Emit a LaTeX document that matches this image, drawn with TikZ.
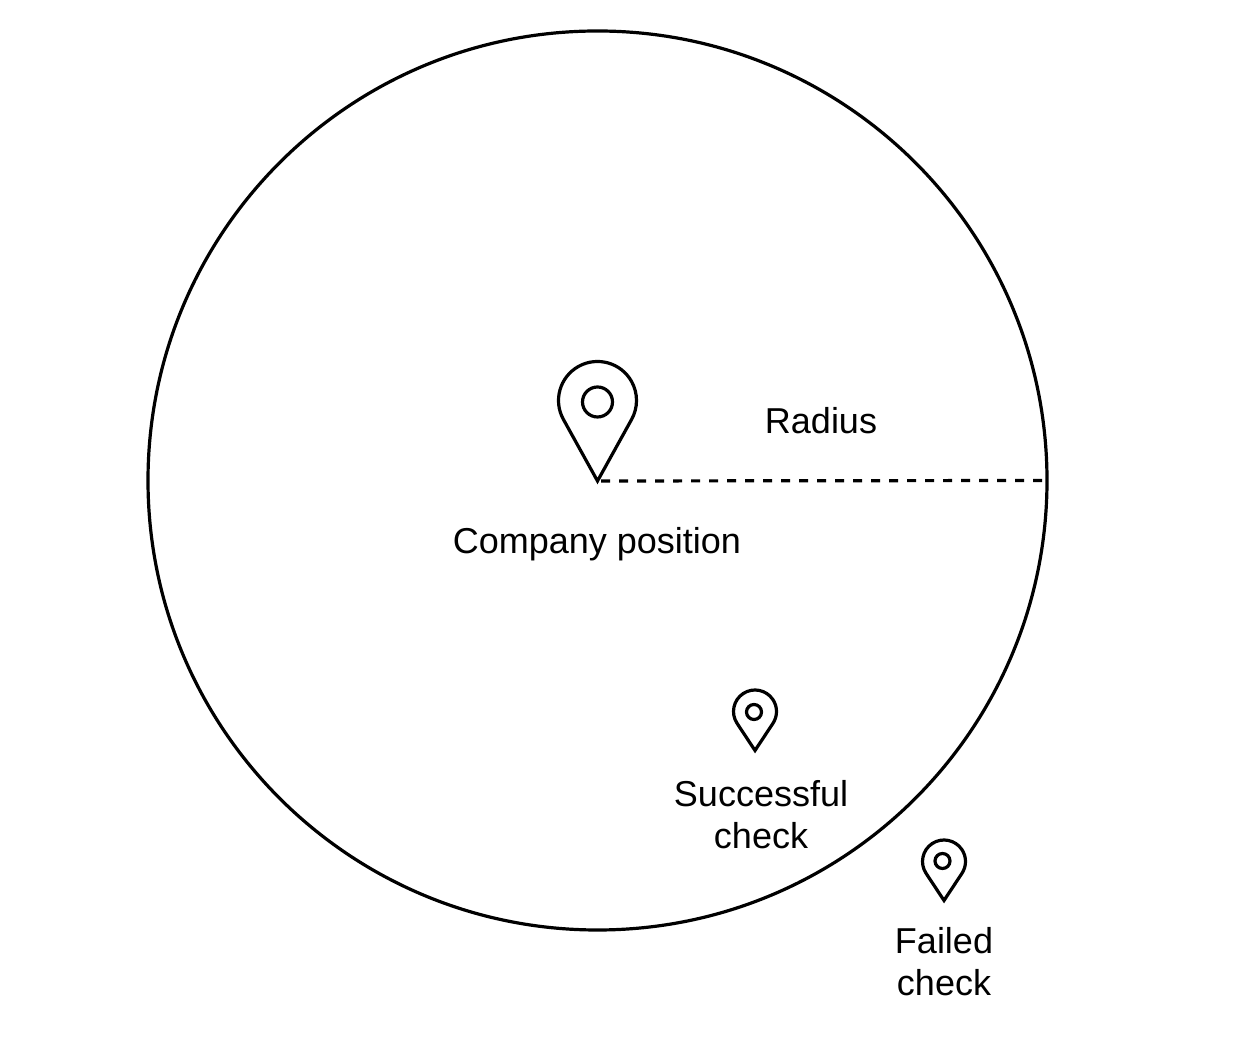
\documentclass[tikz,border=0pt]{standalone}
\usepackage{fontspec}
\setmainfont{Liberation Sans}
\newcommand{\mapPin}[8]{% name, tip x, tip y (up), r, h, hole x, hole y (up), hole r
  \pgfmathsetmacro{\pinA}{asin(#4/#5)}
  \pgfmathsetmacro{\pinTx}{#4*cos(\pinA)}
  \pgfmathsetmacro{\pinTy}{#5-#4*sin(\pinA)}
  \coordinate (#1) at (#2,#3);
  \draw[pinline] (#1) -- ++(-\pinTx,\pinTy) arc[start angle=180+\pinA, end angle=-\pinA, radius=#4] -- cycle;
  \node[pinhole, minimum size=#8*2pt] (#1hole) at (#6,#7) {};
}
\tikzset{
  pinline/.style={line width=3.2pt, line join=miter, black},
  pinhole/.style={circle, draw=black, line width=3.2pt, inner sep=0pt, outer sep=0pt},
  zone/.style={circle, draw=black, line width=3.2pt, inner sep=0pt, outer sep=0pt, minimum size=899pt},
  radiusline/.style={line width=3.2pt, black, dash pattern=on 9pt off 9pt, dash phase=14.5pt},
  lbl/.style={font=\fontsize{36}{42}\selectfont, align=center, inner sep=0pt, text=black}
}
\begin{document}
\begin{tikzpicture}[x=1pt,y=1pt]
\useasboundingbox (0,0) rectangle (1246,1040);
\fill[white] (0,0) rectangle (1246,1040);
\node[zone] (zone) at (597.5,559.5) {};
\mapPin{company}{597.5}{559}{39}{80.5}{597.5}{638}{15}
\mapPin{success}{755}{289.5}{21.5}{39}{754}{328}{7.5}
\mapPin{failed}{944}{139.5}{21.5}{39}{942.5}{179}{7.5}
\draw[radiusline] (company) -- (zone.east);
\node[lbl] (radiuslabel) at (821,619) {Radius};
\node[lbl] (companylabel) at (597,495.5) {Company position};
\node[lbl] (successlabel) at (761,225) {Successful\\check};
\node[lbl] (failedlabel) at (944,78.5) {Failed\\check};
\end{tikzpicture}
\end{document}
